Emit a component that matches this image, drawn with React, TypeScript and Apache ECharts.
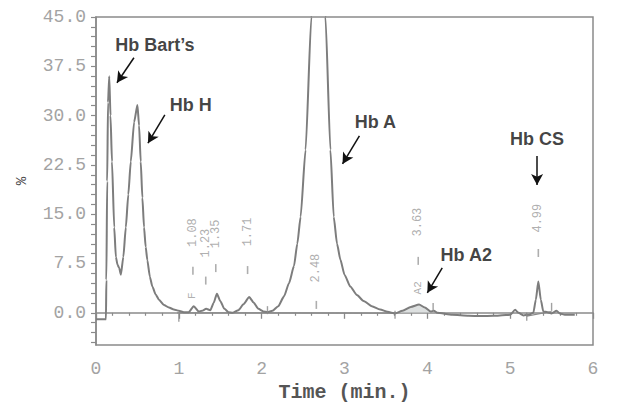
import React, { useEffect, useRef } from "react";
import * as echarts from "echarts";

// Chromatogram trace: [time (axis min.), %]
const traceTime = [
  0.0, 0.12, 0.125, 0.135, 0.145, 0.16, 0.175, 0.193, 0.22, 0.24, 0.26, 0.28, 0.3, 0.33, 0.36, 0.39, 0.42, 0.46, 0.5,
  0.52, 0.54, 0.56, 0.58, 0.6, 0.62, 0.65, 0.68, 0.72, 0.76, 0.82, 0.88, 0.94, 1.0, 1.06, 1.12, 1.18, 1.24, 1.28,
  1.33, 1.38, 1.42, 1.46, 1.5, 1.55, 1.6, 1.65, 1.72, 1.78, 1.85, 1.9, 1.96, 2.02, 2.07, 2.13, 2.2, 2.27, 2.33,
  2.39, 2.43, 2.47, 2.53, 2.6, 2.645, 2.69, 2.735, 2.77, 2.83, 2.87, 2.91, 2.95, 3.0, 3.07, 3.15, 3.23, 3.33,
  3.43, 3.52, 3.61, 3.7, 3.8, 3.9, 3.97, 4.04, 4.08, 4.12, 4.3, 4.5, 4.64, 4.8, 4.95, 5.0, 5.06, 5.1, 5.16, 5.22,
  5.28, 5.31, 5.34, 5.37, 5.4, 5.45, 5.5, 5.56, 5.6, 5.66, 5.78,
];
const traceValue = [
  -1.0, -1.0, 5, 20, 32, 36.0, 30, 23, 13, 8.5, 7.3, 6.8, 5.8, 8.5, 13, 18, 23, 29, 31.6,
  28.5, 23, 17.5, 13, 10, 8, 5.5, 4, 2.8, 2, 1.2, 0.8, 0.5, 0.3, 0.1, 0.1, 1.0, 0.2, 0.3,
  0.6, 0.4, 1.5, 2.9, 1.8, 0.6, 0.1, 0.0, 0.4, 1.3, 2.4, 1.6, 0.6, 0.2, 0.1, 0.3, 1.0, 2.5, 4.5,
  7.1, 10.5, 14.6, 24.8, 45, 65, 78, 65, 45, 24.8, 14.6, 10.5, 8.1, 5.8, 4.0, 2.7, 1.8, 1.0,
  0.5, 0.15, -0.1, 0.3, 0.9, 1.26, 0.8, 0.2, 0.3, 0.0, -0.3, -0.45, -0.5, -0.45, -0.35, -0.3, 0.45, 0.0, -0.4, -0.3,
  0.0, 2.0, 4.76, 2.0, 0.2, 0.1, -0.1, 0.3, -0.1, -0.3, -0.3,
];

// Shaded Hb A2 area
const a2Time = [3.61, 3.7, 3.8, 3.9, 3.97, 4.04];
const a2Value = [-0.1, 0.3, 0.9, 1.26, 0.8, 0.2];

// Integration baselines
const baseTime = [0.98, 3.62];
const baseValue = [0.0, -0.05];
const csBaseTime = [5.2, 5.5];
const csBaseValue = [-0.5, 0.2];

// Retention-time labels printed by the instrument
const peakLabels = ["1.08", "1.23", "1.35", "1.71", "2.48", "3.63", "4.99"];
const peakLabelTime = [1.17, 1.325, 1.446, 1.83, 2.66, 3.89, 5.34];
const peakLabelValue = [12.2, 10.6, 12.0, 12.3, 6.8, 13.8, 14.4];
const peakDashValue = [6.4, 4.9, 6.8, 6.5, 1.2, 7.9, 9.1];

// Small instrument codes
const codeLabels = ["F", "A2"];
const codeTime = [1.16, 3.89];
const codeValue = [2.6, 3.8];

// Integration boundary marks
const markTime = [1.0, 2.07, 3.61, 4.07, 5.2, 5.5];
const markValue = [-0.75, 0.4, -0.3, 0.9, -0.6, 0.9];

// Annotations
const annText = ["Hb Bart\u2019s", "Hb H", "Hb A", "Hb CS", "Hb A2"];
const annTime = [0.71, 1.145, 3.373, 5.325, 4.47];
const annValue = [40.7, 31.6, 29.0, 26.45, 8.82];
const arrowFromTime = [0.458, 0.831, 3.18, 5.325, 4.18];
const arrowFromValue = [38.8, 30.1, 26.9, 23.87, 6.84];
const arrowToTime = [0.253, 0.627, 2.976, 5.325, 4.0];
const arrowToValue = [35.0, 25.8, 22.65, 19.46, 3.04];

// Axes
const yLabelValues = [0, 7.5, 15, 22.5, 30, 37.5, 45];
const yTickValues: number[] = [];
for (let i = -3; i <= 30; i++) yTickValues.push(i * 1.5);
const xTicks = [0, 1, 2, 3, 4, 5, 6];

const MONO = "'Liberation Mono', 'DejaVu Sans Mono', monospace";
const SANS = "'Liberation Sans', Arial, sans-serif";
const AXIS_GRAY = "#8a8a8a";
const LABEL_GRAY = "#a3a3a3";

export default function App() {
  const ref = useRef<HTMLDivElement>(null);
  useEffect(() => {
    if (!ref.current) return;
    const chart = echarts.init(ref.current, null, { renderer: "svg" });
    const trace = traceTime.map((t, i) => [t, traceValue[i]]);
    const option: any = {
      animation: false,
      backgroundColor: "#ffffff",
      grid: {
        left: 96,
        top: 17,
        right: 45,
        bottom: 60,
        containLabel: false,
        outerBoundsMode: "none",
        show: true,
        borderColor: AXIS_GRAY,
        borderWidth: 1.5,
        backgroundColor: "transparent",
      },
      xAxis: {
        type: "value",
        min: xTicks[0],
        max: xTicks[xTicks.length - 1],
        interval: 1,
        name: "Time (min.)",
        nameLocation: "middle",
        nameGap: 37,
        nameTextStyle: { fontFamily: MONO, fontWeight: "bold", fontSize: 20, color: "#555" },
        axisLine: { show: true, lineStyle: { color: AXIS_GRAY, width: 1.5 } },
        axisTick: { show: true, length: 6, lineStyle: { color: AXIS_GRAY, width: 1.3 } },
        minorTick: { show: true, splitNumber: 5, length: 3, lineStyle: { color: AXIS_GRAY, width: 1.2 } },
        axisLabel: { fontFamily: MONO, fontSize: 18, color: LABEL_GRAY, margin: 15 },
        splitLine: { show: false },
      },
      yAxis: {
        type: "value",
        min: -4.9,
        max: 45,
        name: "%",
        nameLocation: "middle",
        nameGap: 67,
        nameRotate: 90,
        nameTextStyle: { fontFamily: MONO, fontSize: 14, color: "#444" },
        axisLine: { show: true, lineStyle: { color: AXIS_GRAY, width: 1.5 } },
        axisTick: { show: true, length: 5, customValues: yTickValues, lineStyle: { color: AXIS_GRAY, width: 1.2 } },
        axisLabel: {
          customValues: yLabelValues,
          fontFamily: MONO,
          fontSize: 18,
          color: LABEL_GRAY,
          margin: 10,
          formatter: (v: number) => v.toFixed(1),
        },
        splitLine: { show: false },
      },
      series: [
        {
          type: "line",
          data: a2Time.map((t, i) => [t, a2Value[i]]),
          showSymbol: false,
          lineStyle: { width: 0 },
          areaStyle: { color: "#cfd3d3", origin: 0 },
          silent: true,
          z: 1,
        },
        {
          type: "line",
          data: baseTime.map((t, i) => [t, baseValue[i]]),
          showSymbol: false,
          lineStyle: { color: "#888", width: 1.2 },
          silent: true,
          z: 2,
        },
        {
          type: "line",
          data: csBaseTime.map((t, i) => [t, csBaseValue[i]]),
          showSymbol: false,
          lineStyle: { color: "#888", width: 1.2 },
          silent: true,
          z: 2,
        },
        {
          type: "line",
          data: trace,
          showSymbol: false,
          smooth: 0.2,
          smoothMonotone: "x",
          clip: true,
          lineStyle: { color: "#7d7d7d", width: 2 },
          silent: true,
          z: 3,
        },
        {
          type: "scatter",
          data: peakLabelTime.map((t, i) => ({ name: peakLabels[i], value: [t, peakLabelValue[i]] })),
          symbolSize: 0,
          label: {
            show: true,
            position: "inside",
            rotate: 90,
            formatter: "{b}",
            fontFamily: MONO,
            fontSize: 12,
            color: "#9a9a9a",
          },
          silent: true,
          z: 4,
        },
        {
          type: "scatter",
          data: codeTime.map((t, i) => ({ name: codeLabels[i], value: [t, codeValue[i]] })),
          symbolSize: 0,
          label: {
            show: true,
            position: "inside",
            rotate: 90,
            formatter: "{b}",
            fontFamily: MONO,
            fontSize: 11,
            color: "#9a9a9a",
          },
          silent: true,
          z: 4,
        },
        {
          type: "scatter",
          data: peakLabelTime.map((t, i) => [t, peakDashValue[i]]),
          symbol: "rect",
          symbolSize: [1.6, 8],
          itemStyle: { color: "#9a9a9a" },
          silent: true,
          z: 4,
        },
        {
          type: "scatter",
          data: markTime.map((t, i) => [t, markValue[i]]),
          symbol: "rect",
          symbolSize: [1.4, 8],
          itemStyle: { color: "#8a8a8a" },
          silent: true,
          z: 4,
        },
        {
          type: "scatter",
          data: annTime.map((t, i) => ({ name: annText[i], value: [t, annValue[i]] })),
          symbolSize: 0,
          label: {
            show: true,
            position: "inside",
            formatter: "{b}",
            fontFamily: SANS,
            fontWeight: "bold",
            fontSize: 18,
            color: "#111",
          },
          silent: true,
          z: 5,
          markLine: {
            silent: true,
            animation: false,
            symbol: ["none", "arrow"],
            symbolSize: [9, 11],
            label: { show: false },
            lineStyle: { color: "#111", width: 1.5, type: "solid" },
            data: arrowFromTime.map((t, i) => [
              { coord: [t, arrowFromValue[i]] },
              { coord: [arrowToTime[i], arrowToValue[i]] },
            ]),
          },
        },
      ],
    };
    chart.setOption(option);
    return () => chart.dispose();
  }, []);
  return (
    <div
      ref={ref}
      style={{ position: "fixed", left: 0, top: 0, width: 638, height: 405, background: "#fff" }}
    />
  );
}
